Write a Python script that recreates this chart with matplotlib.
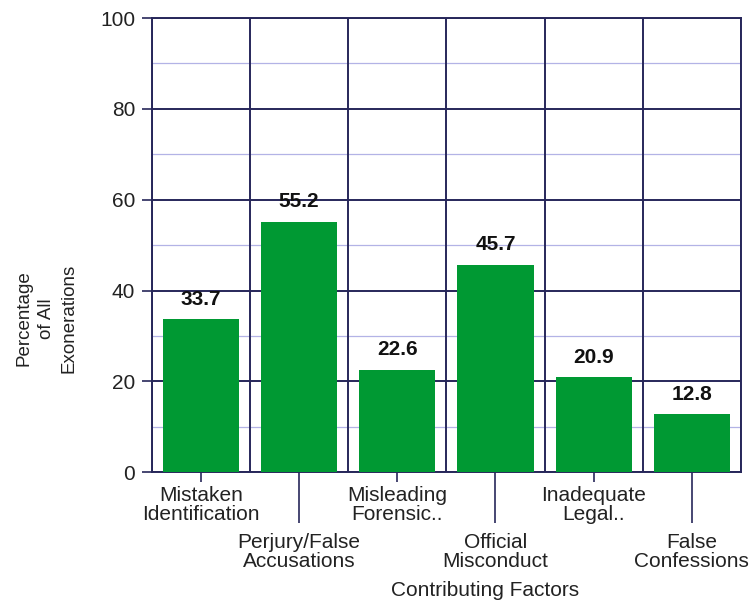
import matplotlib.pyplot as plt
import numpy as np

plt.rcParams['font.family'] = ['Liberation Sans', 'DejaVu Sans']

categories = ["Mistaken\nIdentification", "Perjury/False\nAccusations", "Misleading\nForensic..",
              "Official\nMisconduct", "Inadequate\nLegal..", "False\nConfessions"]
values = [33.7, 55.2, 22.6, 45.7, 20.9, 12.8]

navy = '#27275a'
lavender = '#b3b3e6'
green = '#009933'
txt = '#222222'

fig = plt.figure(figsize=(7.56, 6.03), dpi=100)
ax = fig.add_axes([0.201, 0.217, 0.779, 0.753])

x = np.arange(len(values))
ax.bar(x, values, width=0.775, color=green, zorder=3)
for xi, v in zip(x, values):
    ax.annotate(f"{v:.1f}", (xi, v), xytext=(0, 7.5), textcoords='offset points',
                ha='center', va='bottom', fontsize=15, fontweight='bold', color='#111111')

ax.set_xlim(-0.5, len(values) - 0.5)
ax.set_ylim(0, 100)

# y grid: dark majors, light minors
ax.set_yticks(np.arange(0, 101, 20))
ax.set_yticks(np.arange(10, 100, 20), minor=True)
ax.grid(axis='y', which='major', color=navy, linewidth=1.4, zorder=1)
ax.grid(axis='y', which='minor', color=lavender, linewidth=0.9, zorder=1)
ax.set_axisbelow(True)
for b in np.arange(-0.5, len(values), 1.0):
    ax.axvline(b, color=navy, linewidth=1.4, zorder=1)

# staggered category labels
ax.set_xticks(x[0::2], [categories[i] for i in x[0::2]], linespacing=0.98)
ax.set_xticks(x[1::2], [categories[i] for i in x[1::2]], minor=True, linespacing=0.95)
ax.tick_params(axis='x', which='major', length=7, width=1.2, color=navy, pad=3,
               labelsize=15, labelcolor=txt)
ax.tick_params(axis='x', which='minor', length=37, width=1.2, color=navy, pad=7,
               labelsize=15, labelcolor=txt)
ax.tick_params(axis='y', which='major', length=7, width=1.2, color=navy, labelsize=15,
               pad=5, labelcolor=txt)
ax.tick_params(axis='y', which='minor', length=0)

for s in ax.spines.values():
    s.set_color(navy)
    s.set_linewidth(1.4)

fig.text(0.642, 0.02, "Contributing Factors", ha='center', va='center', fontsize=15, color=txt)
fig.text(0.061, 0.472, "Percentage\nof All\nExonerations", rotation=90, ha='center', va='center',
         fontsize=13.5, multialignment='center', linespacing=1.42, color=txt)

fig.savefig("out.png", dpi=100)
